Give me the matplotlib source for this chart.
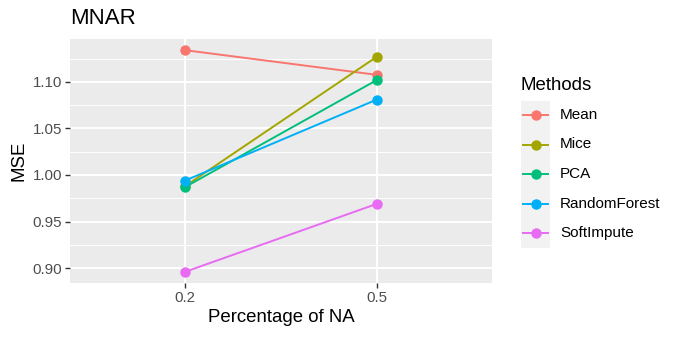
import numpy as np
import matplotlib
matplotlib.use("Agg")
import matplotlib.pyplot as plt
from matplotlib.lines import Line2D
from matplotlib.patches import Rectangle
from matplotlib.ticker import MultipleLocator

plt.rcParams['font.family'] = ['Liberation Sans', 'DejaVu Sans']

# data
pct_na = ["0.2", "0.5"]
methods = ["Mean", "Mice", "PCA", "RandomForest", "SoftImpute"]
mse_mean = [1.134, 1.1075]
mse_mice = [0.988, 1.127]
mse_pca = [0.987, 1.102]
mse_rf = [0.994, 1.081]
mse_soft = [0.896, 0.969]
colors = ["#F8766D", "#A3A500", "#00BF7D", "#00B0F6", "#E76BF3"]

W, H = 678, 338
fig = plt.figure(figsize=(W / 100, H / 100), dpi=100)
ax = fig.add_axes([70 / W, 1 - 283 / H, (492 - 70) / W, (283 - 39) / H])
ax.set_facecolor("#EBEBEB")
for s in ax.spines.values():
    s.set_visible(False)

series = [mse_mean, mse_mice, mse_pca, mse_rf, mse_soft]
for vals, c in zip(series, colors):
    ax.plot(pct_na, vals, color=c, lw=1.4, marker="o", ms=6.5, zorder=3)

ax.set_xlim(-0.6, 1.6)
ax.set_ylim(0.884, 1.146)
ax.yaxis.set_major_locator(MultipleLocator(0.05))
ax.yaxis.set_minor_locator(MultipleLocator(0.025))
ax.yaxis.set_major_formatter(lambda v, p: f"{v:.2f}")

ax.grid(True, which="major", color="white", lw=1.4)
ax.grid(True, which="minor", axis="y", color="white", lw=0.7)
ax.set_axisbelow(True)
ax.tick_params(which="major", length=3.6, width=1.0, color="#333333",
               labelcolor="#4D4D4D", labelsize=10.8, pad=2)
ax.tick_params(which="minor", length=0)

ax.set_xlabel("Percentage of NA", fontsize=13.4, color="black", labelpad=3)
ax.set_ylabel("MSE", fontsize=13.4, color="black", labelpad=4)
fig.text(70 / W, 1 - 18 / H, "MNAR", fontsize=16, va="center", ha="left")

# legend, ggplot style
fig.text(521 / W, 1 - 85 / H, "Methods", fontsize=13.4, va="center", ha="left")
fig.patches.append(Rectangle((521 / W, 1 - 248 / H), 29 / W, 147 / H,
                             transform=fig.transFigure, facecolor="#F2F2F2",
                             edgecolor="none"))
for i, (m, c) in enumerate(zip(methods, colors)):
    yc = 1 - (115 + i * 29.5) / H
    fig.lines.append(Line2D([523 / W, 548 / W], [yc, yc], transform=fig.transFigure,
                            color=c, lw=1.4))
    fig.lines.append(Line2D([535.5 / W], [yc], transform=fig.transFigure,
                            color=c, marker="o", ms=6.5))
    fig.text(560 / W, yc, m, fontsize=11, va="center", ha="left")

fig.savefig("out.png", dpi=100)
